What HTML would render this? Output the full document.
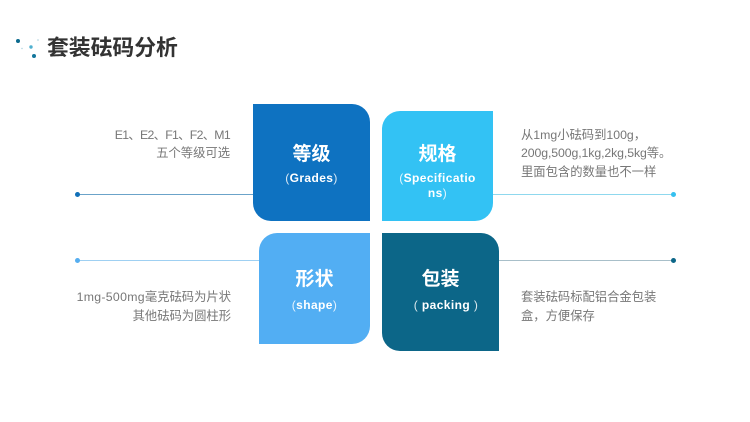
<!DOCTYPE html>
<html lang="zh">
<head>
<meta charset="utf-8">
<style>
html,body{margin:0;padding:0;background:#fff}
#p{position:relative;width:750px;height:422px;overflow:hidden;background:#fff;font-family:"Liberation Sans","Noto Sans CJK SC",sans-serif}
.t{position:absolute;box-sizing:border-box;color:#fff;text-align:center}
.h{position:absolute;left:0;right:0;font-size:19px;font-weight:700;line-height:24px;white-space:nowrap}
.s{position:absolute;left:0;right:0;font-size:12px;font-weight:700;line-height:14.500px;color:#fff;white-space:nowrap;letter-spacing:.4px}
.s i{font-style:normal;font-weight:400;font-family:"Liberation Sans",sans-serif;opacity:.85}
.d{position:absolute;font-size:12.3px;line-height:18.700px;color:#777;white-space:nowrap}
.l{position:absolute;height:1.4px}
.o{position:absolute;width:5px;height:5px;border-radius:50%}
</style>
</head>
<body>
<div id="p">
<svg style="position:absolute;left:0;top:20px" width="60" height="60">
<circle cx="18" cy="21" r="2" fill="#0b6a8e"/>
<circle cx="31" cy="27" r="1.7" fill="#4fb0cf"/>
<circle cx="34" cy="36" r="2" fill="#13769c"/>
<circle cx="38" cy="20" r="0.8" fill="#a9cfdc"/>
<circle cx="22" cy="28.500" r="0.7" fill="#a9cfdc"/>
</svg>
<div style="position:absolute;left:47px;top:33px;font-size:21.800px;font-weight:700;line-height:30px;color:#333;white-space:nowrap">套装砝码分析</div>

<div class="l" style="left:77px;top:193.500px;width:177px;background:#6ba3c9"></div>
<div class="o" style="left:75px;top:191.500px;background:#1170b8"></div>
<div class="l" style="left:77px;top:259.500px;width:183px;background:#9fd0f2"></div>
<div class="o" style="left:75px;top:257.500px;background:#56aef0"></div>
<div class="l" style="left:492px;top:193.500px;width:181px;background:#8fd8ee"></div>
<div class="o" style="left:670.500px;top:191.500px;background:#35c0ef"></div>
<div class="l" style="left:499px;top:259.500px;width:174px;background:#a8bfc9"></div>
<div class="o" style="left:670.500px;top:257.500px;background:#0c6688"></div>

<div class="t" style="left:253px;top:104px;width:117px;height:117px;background:#0e72c1;border-radius:0 18px 0 18px">
<div class="h" style="top:38.500px">等级</div>
<div class="s" style="top:67px"><i>(</i>Grades<i>)</i></div>
</div>
<div class="t" style="left:382px;top:111px;width:111px;height:110px;background:#33c2f4;border-radius:18px 0 18px 0">
<div class="h" style="top:31.500px">规格</div>
<div class="s" style="top:60px"><i>(</i>Specificatio<br>ns<i>)</i></div>
</div>
<div class="t" style="left:259px;top:233px;width:111px;height:111px;background:#52aef3;border-radius:18px 0 18px 0">
<div class="h" style="top:35px">形状</div>
<div class="s" style="top:65px"><i>(</i>shape<i>)</i></div>
</div>
<div class="t" style="left:382px;top:233px;width:117px;height:118px;background:#0c6688;border-radius:0 18px 0 18px">
<div class="h" style="top:35px">包装</div>
<div class="s" style="top:65px;left:11px"><i>(</i>&nbsp;packing&nbsp;<i>)</i></div>
</div>

<div class="d" style="right:520px;top:125.500px;text-align:right"><span style="letter-spacing:-.7px">E1、E2、F1、F2、M1</span><br>五个等级可选</div>
<div class="d" style="right:519px;top:288px;text-align:right;line-height:19px"><span style="letter-spacing:.3px">1mg-500mg</span>毫克砝码为片状<br>其他砝码为圆柱形</div>
<div class="d" style="left:521px;top:125.500px">从1mg小砝码到100g，<br><span style="letter-spacing:-.1px">200g,500g,1kg,2kg,5kg等。</span><br>里面包含的数量也不一样</div>
<div class="d" style="left:521px;top:288px;line-height:19px">套装砝码标配铝合金包装<br>盒，方便保存</div>
</div>
</body>
</html>
